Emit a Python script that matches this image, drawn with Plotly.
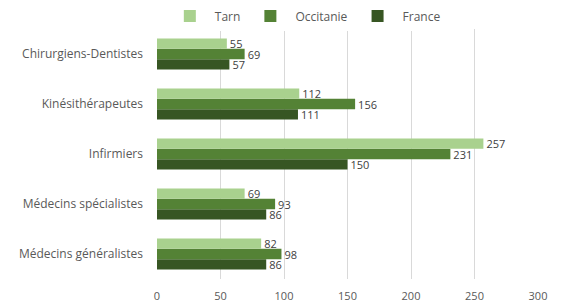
import plotly.graph_objects as go

categories = ["Médecins généralistes", "Médecins spécialistes", "Infirmiers",
              "Kinésithérapeutes", "Chirurgiens-Dentistes"]
tarn = [82, 69, 257, 112, 55]
occitanie = [98, 93, 231, 156, 69]
france = [86, 86, 150, 111, 57]
x_ticks = [0, 50, 100, 150, 200, 250, 300]

FONT = "Open Sans"
series = [("France", france, "#375623"),
          ("Occitanie", occitanie, "#548235"),
          ("Tarn", tarn, "#A9D18E")]

fig = go.Figure()
for name, vals, color in series:
    fig.add_trace(go.Bar(
        y=categories, x=vals, name=name, orientation="h",
        marker=dict(color=color, line=dict(width=0)),
        text=vals, textposition="outside", cliponaxis=False,
        constraintext="none",
        textfont=dict(family=FONT, size=11, color="#404040"),
    ))

fig.update_layout(
    width=561, height=306,
    margin=dict(l=149, r=31, t=21, b=35, autoexpand=False),
    paper_bgcolor="white", plot_bgcolor="white",
    barmode="group", bargap=0.38, bargroupgap=0,
    font=dict(family=FONT, size=12, color="#595959"),
    showlegend=True,
    legend=dict(orientation="h", traceorder="reversed",
                xref="container", yref="paper",
                x=0.53, xanchor="center", y=1.052, yanchor="middle",
                font=dict(family=FONT, size=12, color="#595959"),
                itemwidth=40),
    xaxis=dict(range=[0, 300], tickvals=x_ticks, showgrid=True,
               gridcolor="#D9D9D9", gridwidth=1, zeroline=False,
               showline=False, automargin=False, ticklabelstandoff=9,
               tickfont=dict(size=11, color="#595959")),
    yaxis=dict(showgrid=False, showline=False, zeroline=False,
               automargin=False, ticklabelstandoff=13,
               tickfont=dict(size=12, color="#595959")),
)

fig.write_html("out.html")
